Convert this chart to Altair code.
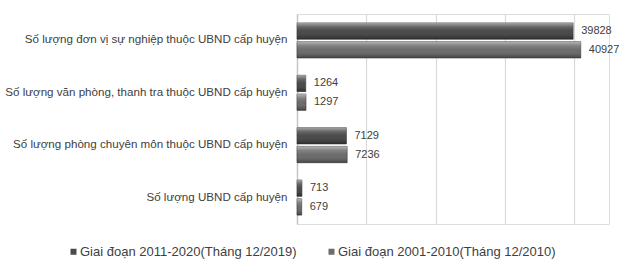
import altair as alt
import pandas as pd

categories = [
    "Số lượng đơn vị sự nghiệp thuộc UBND cấp huyện",
    "Số lượng văn phòng, thanh tra thuộc UBND cấp huyện",
    "Số lượng phòng chuyên môn thuộc UBND cấp huyện",
    "Số lượng UBND cấp huyện",
]
series = ["Giai đoạn 2011-2020(Tháng 12/2019)", "Giai đoạn 2001-2010(Tháng 12/2010)"]
values_2019 = [39828, 1264, 7129, 713]
values_2010 = [40927, 1297, 7236, 679]

rows = []
for c, v in zip(categories, values_2019):
    rows.append({"cat": c, "series": series[0], "value": v})
for c, v in zip(categories, values_2010):
    rows.append({"cat": c, "series": series[1], "value": v})
df = pd.DataFrame(rows)

FONT = "Liberation Sans"

y_enc = alt.Y("cat:N", sort=categories, title=None,
              scale=alt.Scale(paddingInner=0.33, paddingOuter=0.17),
              axis=alt.Axis(labelFont=FONT, labelFontSize=11.6, labelColor="#404040",
                            labelPadding=10, labelLimit=400, ticks=False,
                            domainColor="#c8c8c8", domainWidth=1.5, grid=False))
yoff = alt.YOffset("series:N", sort=series, scale=alt.Scale(paddingInner=0.13, paddingOuter=0))
x_enc = alt.X("value:Q", title=None,
              scale=alt.Scale(domain=[0, 45000], nice=False),
              axis=alt.Axis(values=[0, 10000, 20000, 30000, 40000], labels=False, ticks=False,
                            domain=False, grid=True, gridColor="#d9d9d9", gridWidth=1.2))

bars = alt.Chart(df).mark_bar(stroke="#3a3a3a", strokeWidth=0.6).encode(
    x=x_enc, y=y_enc, yOffset=yoff,
    color=alt.Color("series:N", sort=series, title=None,
                    scale=alt.Scale(domain=series, range=["#4a4a4a", "#6c6c6c"]),
                    legend=alt.Legend(orient="none", direction="horizontal", columns=2,
                                      legendX=-230, legendY=231,
                                      symbolType="square", symbolSize=36,
                                      symbolStrokeWidth=0, symbolOffset=0,
                                      labelFont=FONT, labelFontSize=13, labelColor="#404040",
                                      labelOffset=0, columnPadding=28, labelLimit=400)),
)

shine = alt.Chart(df).mark_bar(
    fill=alt.Gradient(
        gradient="linear", x1=0, y1=0, x2=0, y2=1,
        stops=[
            alt.GradientStop(color="rgba(255,255,255,0.5)", offset=0),
            alt.GradientStop(color="rgba(255,255,255,0.15)", offset=0.25),
            alt.GradientStop(color="rgba(255,255,255,0)", offset=0.5),
            alt.GradientStop(color="rgba(0,0,0,0.05)", offset=0.75),
            alt.GradientStop(color="rgba(0,0,0,0.35)", offset=1),
        ],
    )
).encode(x=x_enc, y=y_enc, yOffset=yoff)

labels = alt.Chart(df).mark_text(align="left", baseline="middle", dx=8,
                                 font=FONT, fontSize=11, color="#404040").encode(
    x=x_enc, y=y_enc, yOffset=yoff, text=alt.Text("value:Q", format="d"))

chart = alt.layer(bars, shine, labels).properties(
    width=312, height=210,
    autosize=alt.AutoSizeParams(type="none"),
    padding={"left": 297, "top": 14, "right": 15, "bottom": 44},
).configure_view(stroke=None).configure(background="white")

chart.save("out.html", embed_options={"renderer": "svg", "actions": False})
